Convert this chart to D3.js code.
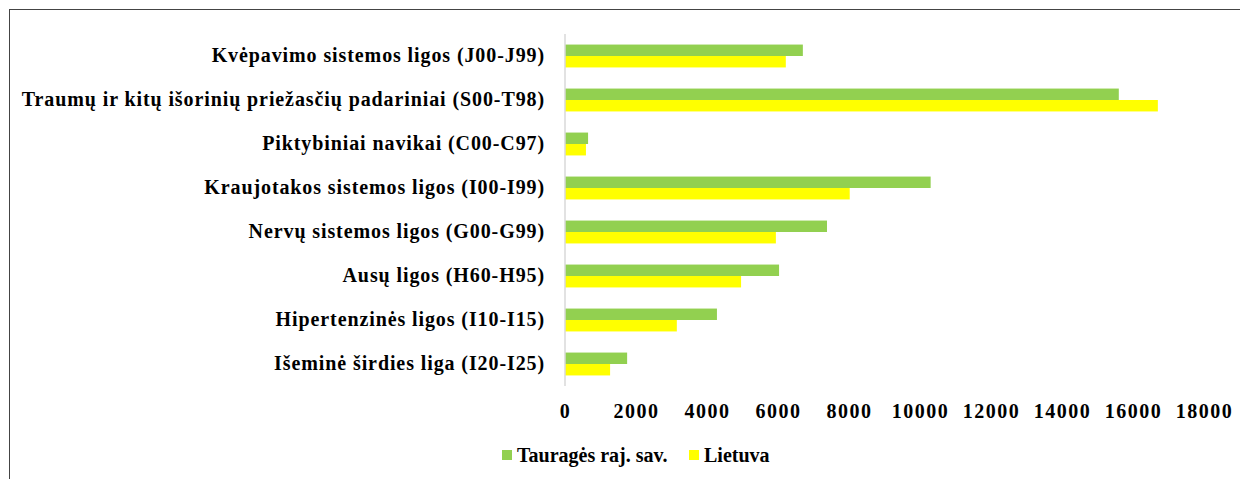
<html>
<script src="https://d3js.org/d3.v7.min.js"></script>
<style>
body { margin: 0; background: #fff; }
text { font-family: "Liberation Serif", "Times New Roman", serif; font-weight: bold; fill: #000; }
</style>
<body>
<script>
// categories top to bottom
var categories = [
  "Kvėpavimo sistemos ligos (J00-J99)",
  "Traumų ir kitų išorinių priežasčių padariniai (S00-T98)",
  "Piktybiniai navikai (C00-C97)",
  "Kraujotakos sistemos ligos (I00-I99)",
  "Nervų sistemos ligos (G00-G99)",
  "Ausų ligos (H60-H95)",
  "Hipertenzinės ligos (I10-I15)",
  "Išeminė širdies liga (I20-I25)"
];
var taurage = [6700, 15600, 650, 10300, 7380, 6030, 4280, 1750];
var lietuva = [6220, 16700, 590, 8020, 5940, 4960, 3150, 1270];
var seriesNames = ["Tauragės raj. sav.", "Lietuva"];
var seriesColors = ["#92d050", "#ffff00"];
var tickValues = [0, 2000, 4000, 6000, 8000, 10000, 12000, 14000, 16000, 18000];

var w = 1240, h = 479;
var svg = d3.select("body").append("svg").attr("width", w).attr("height", h);

// outer frame (runs off right/bottom edge)
svg.append("rect")
  .attr("x", 9.5).attr("y", 9.5)
  .attr("width", w + 20).attr("height", h + 20)
  .attr("fill", "none").attr("stroke", "#444").attr("stroke-width", 1);

var x = d3.scaleLinear().domain([0, 18000]).range([565, 1204]);
var y = d3.scaleBand().domain(categories).range([34, 386]).paddingInner(0.48).paddingOuter(0.24);
var sub = d3.scaleBand().domain([0, 1]).range([0, y.bandwidth()]);

var groups = svg.selectAll("g.cat")
  .data(categories)
  .enter().append("g")
  .attr("class", "cat")
  .attr("transform", function(d) { return "translate(0," + y(d) + ")"; });

groups.selectAll("rect")
  .data(function(d, i) { return [taurage[i], lietuva[i]]; })
  .enter().append("rect")
  .attr("x", x(0))
  .attr("y", function(d, j) { return sub(j); })
  .attr("width", function(d) { return x(d) - x(0); })
  .attr("height", sub.bandwidth())
  .attr("fill", function(d, j) { return seriesColors[j]; });

// category labels
svg.append("g")
  .attr("transform", "translate(" + x(0) + ",0)")
  .call(d3.axisLeft(y).tickSize(0).tickPadding(20))
  .call(function(g) { g.select(".domain").remove(); })
  .selectAll("text")
  .style("font-size", "20px")
  .style("letter-spacing", "0.9px")
  .style("font-family", "Liberation Serif")
  .style("font-weight", "bold")
  .attr("fill", "#000");

// vertical axis line
svg.append("line")
  .attr("x1", x(0)).attr("x2", x(0))
  .attr("y1", 34).attr("y2", 386)
  .attr("stroke", "#d9d9d9").attr("stroke-width", 1.5);

// value axis labels
svg.append("g")
  .attr("transform", "translate(0,386)")
  .call(d3.axisBottom(x).tickValues(tickValues).tickSize(0).tickPadding(18).tickFormat(d3.format("d")))
  .call(function(g) { g.select(".domain").remove(); })
  .selectAll("text")
  .style("font-size", "20px")
  .style("letter-spacing", "1.5px")
  .style("font-family", "Liberation Serif")
  .style("font-weight", "bold")
  .attr("fill", "#000");

// legend
var legendX = [502, 689];
seriesNames.forEach(function(name, i) {
  svg.append("rect")
    .attr("x", legendX[i]).attr("y", 450)
    .attr("width", 10).attr("height", 10)
    .attr("fill", seriesColors[i]);
  svg.append("text")
    .attr("x", legendX[i] + 15).attr("y", 455)
    .attr("dy", "0.35em")
    .style("font-size", "20px")
    .text(name);
});
</script>
</body>
</html>
